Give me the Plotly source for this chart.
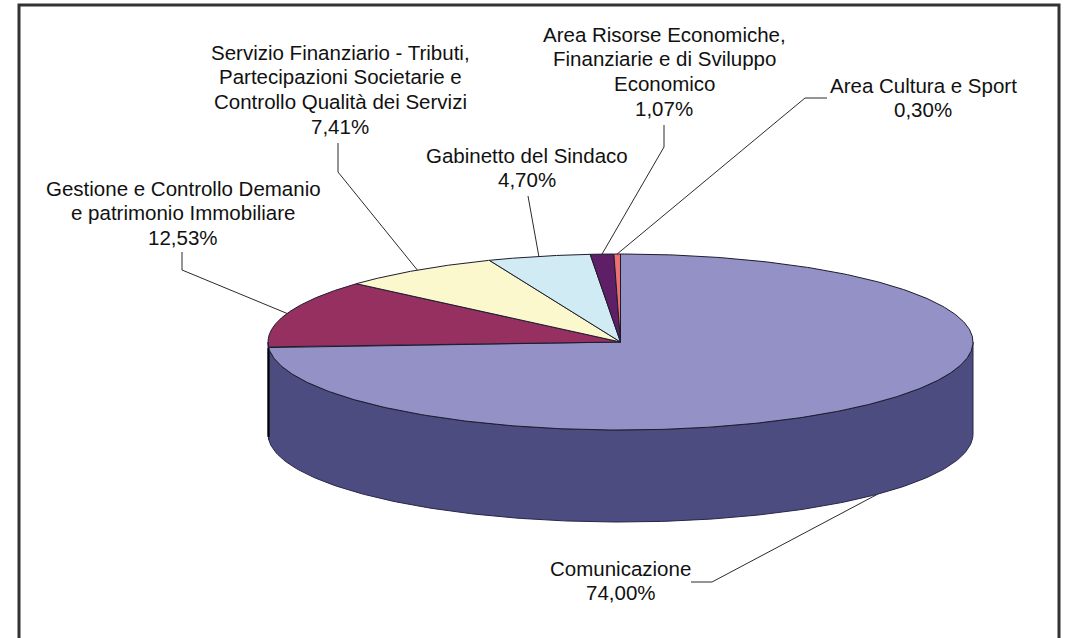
import numpy as np
import plotly.graph_objects as go

labels = ["Comunicazione", "Gestione e Controllo Demanio<br>e patrimonio Immobiliare",
          "Servizio Finanziario - Tributi,<br>Partecipazioni Societarie e<br>Controllo Qualità dei Servizi",
          "Gabinetto del Sindaco",
          "Area Risorse Economiche,<br>Finanziarie e di Sviluppo<br>Economico",
          "Area Cultura e Sport"]
values = [74.00, 12.53, 7.41, 4.70, 1.07, 0.30]
value_text = ["74,00%", "12,53%", "7,41%", "4,70%", "1,07%", "0,30%"]
top_colors = ["#9491C6", "#963061", "#FAF8CC", "#D0EBF3", "#5E1F66", "#EE7070"]
wall_colors = ["#4D4C80", "#4B1833", "#7D7C66", "#687679", "#2F0F33", "#773838"]

# label layout: text centre x, first-line centre y, leader elbow points
label_x = [620.5, 183, 340, 527, 664, 923]
label_y = [568, 188, 52, 155, 34, 85]
elbows = [[(691, 582), (712, 582)], [(182, 252), (182, 270)], [(338, 143), (338, 172)],
          [(528, 196)], [(664, 125), (664, 147)], [(827, 98), (805, 98)]]

CX, CY, RX, RY, DEPTH = 620.5, 342, 352.5, 88, 92
LINE_H = 24.7

def rim(theta, depth=0.0):
    return CX + RX * np.sin(theta), CY - RY * np.cos(theta) + depth

fig = go.Figure()
edges = np.concatenate([[0], np.cumsum(values)]) / sum(values) * 2 * np.pi

# side wall (front half of the cylinder only)
for a, b, col in zip(edges[:-1], edges[1:], wall_colors):
    lo, hi = max(a, np.pi / 2), min(b, 3 * np.pi / 2)
    if lo >= hi:
        continue
    t = np.linspace(lo, hi, 200)
    xu, yu = rim(t)
    xl, yl = rim(t[::-1], DEPTH)
    fig.add_trace(go.Scatter(x=np.r_[xu, xl, xu[0]], y=np.r_[yu, yl, yu[0]], mode="lines",
                             fill="toself", fillcolor=col, line=dict(color="#26264a", width=1),
                             hoverinfo="skip", showlegend=False))

# dark vertical silhouette on the left
xl0, yl0 = rim(np.array([3 * np.pi / 2]))
fig.add_trace(go.Scatter(x=[xl0[0] + 0.5] * 2, y=[yl0[0] + 6, yl0[0] + DEPTH + 3], mode="lines",
                         line=dict(color="#000000", width=2), hoverinfo="skip", showlegend=False))

# top face
for a, b, col in zip(edges[:-1], edges[1:], top_colors):
    t = np.linspace(a, b, 400)
    xu, yu = rim(t)
    fig.add_trace(go.Scatter(x=np.r_[CX, xu, CX], y=np.r_[CY, yu, CY], mode="lines",
                             fill="toself", fillcolor=col, line=dict(color="#1c1c2e", width=1),
                             hoverinfo="skip", showlegend=False))

# leader lines, anchored at each slice's mid angle on the rim
mids = (edges[:-1] + edges[1:]) / 2
for i, m in enumerate(mids):
    d = DEPTH if np.cos(m) < 0 else 0
    ex, ey = rim(m, d)
    xs = [p[0] for p in elbows[i]] + [float(ex)]
    ys = [p[1] for p in elbows[i]] + [float(ey)]
    fig.add_trace(go.Scatter(x=xs, y=ys, mode="lines", line=dict(color="#2a2a2a", width=1),
                             hoverinfo="skip", showlegend=False))

for lab, val, x, y in zip(labels, value_text, label_x, label_y):
    for j, line in enumerate((lab + "<br>" + val).split("<br>")):
        fig.add_annotation(x=x, y=y + j * LINE_H, text=line, showarrow=False, xanchor="center",
                           yanchor="middle", font=dict(family="Liberation Sans", size=20.5, color="#111111"))

fig.add_shape(type="rect", x0=19, y0=5, x1=1059, y1=650, line=dict(color="#333333", width=3))

fig.update_layout(width=1065, height=638, margin=dict(l=0, r=0, t=0, b=0), autosize=False,
                  paper_bgcolor="white", plot_bgcolor="white", showlegend=False,
                  xaxis=dict(range=[0, 1065], visible=False),
                  yaxis=dict(range=[638, 0], visible=False))
fig.write_html("out.html", config=dict(displayModeBar=False),
               post_script="document.documentElement.style.overflow='hidden';document.body.style.margin='0';")
